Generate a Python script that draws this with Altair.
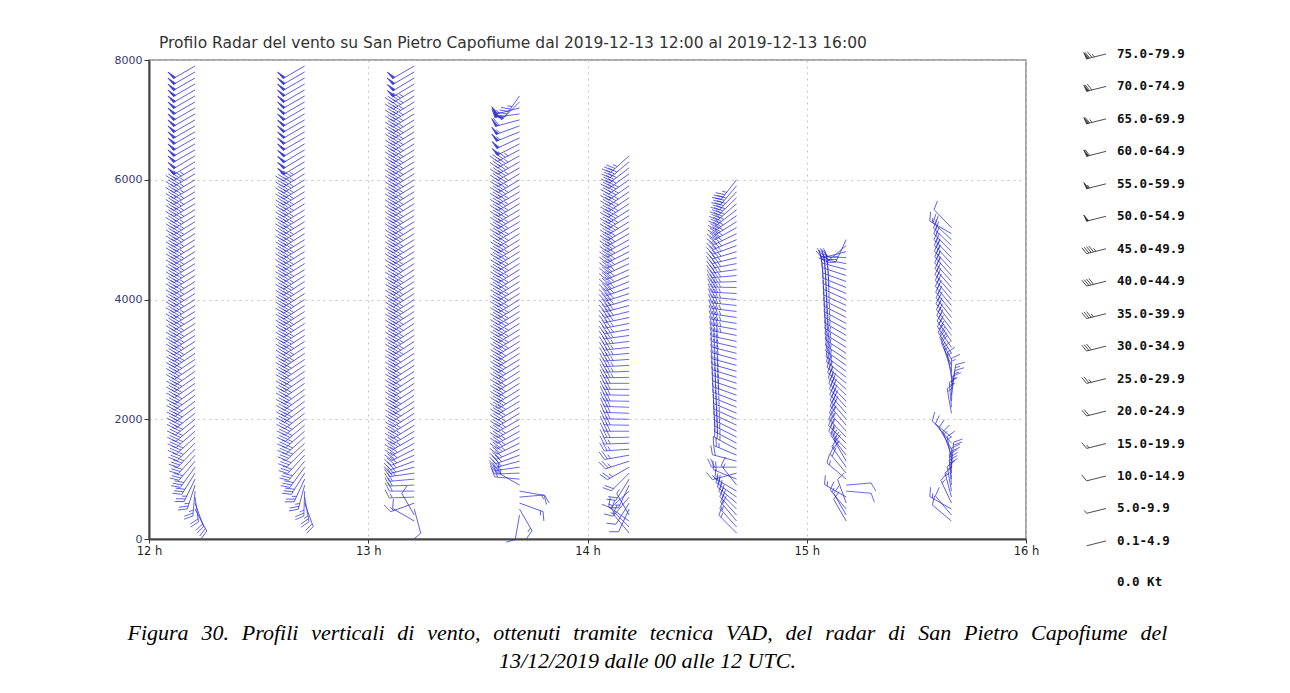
import math
import pandas as pd
import altair as alt

# ---------------- data ----------------
TITLE = "Profilo Radar del vento su San Pietro Capofiume dal 2019-12-13 12:00 al 2019-12-13 16:00"
CAPTION_1 = "Figura 30. Profili verticali di vento, ottenuti tramite tecnica VAD, del radar di San Pietro Capofiume del"
CAPTION_2 = "13/12/2019 dalle 00 alle 12 UTC."

# profile times (decimal hours) and lowest level (m); levels every 100 m
P_TIME = [12.21, 12.71, 13.21, 13.69, 14.19, 14.68, 15.18, 15.66, 15.66]
P_BASE = [500, 600, 300, 400, 100, 100, 300, 300, 2100]

P1_DIR = [152, 160, 172, 185, 198, 206, 212, 216, 220,
          222, 224, 226, 228, 229, 230, 231, 232, 233, 233,
          234, 234, 235, 235, 235, 236, 236, 236, 236, 237,
          237, 237, 237, 238, 238, 238, 238, 238, 238, 238,
          238, 238, 238, 238, 238, 238, 238, 238, 238, 238,
          238, 239, 239, 239, 239, 239, 239, 239, 239, 239,
          239, 240, 240, 240, 240, 240, 240, 240, 240, 240,
          240, 240, 240, 240, 240, 240]
P1_SPD = [20, 22, 22, 25, 25, 28, 30, 30, 32,
          33, 35, 35, 37, 38, 38, 40, 40, 40, 41,
          41, 42, 42, 43, 43, 44, 44, 45, 45, 45,
          46, 46, 46, 47, 47, 47, 47, 47, 48, 48,
          48, 48, 48, 49, 49, 49, 49, 49, 48, 48,
          49, 49, 49, 49, 49, 48, 49, 49, 49, 50,
          51, 51, 52, 52, 53, 53, 53, 54, 54, 54,
          53, 53, 52, 52, 51, 50]

P2_DIR = [160, 170, 182, 195, 205, 212, 216,
          220, 223, 225, 227, 228, 229, 230, 231, 232, 233,
          233, 234, 234, 235, 235, 235, 236, 236, 236, 236,
          237, 237, 237, 237, 237, 237, 237, 237, 237, 237,
          237, 237, 238, 238, 238, 238, 238, 238, 238, 238,
          238, 238, 238, 238, 238, 238, 238, 238, 238, 238,
          239, 239, 239, 239, 240, 240, 240, 240, 240, 240,
          240, 240, 240, 240, 240, 240, 240]
P2_SPD = [22, 25, 25, 28, 28, 30, 30,
          32, 33, 34, 35, 36, 37, 38, 39, 40, 40,
          41, 41, 42, 42, 43, 43, 44, 44, 45, 45,
          45, 46, 46, 46, 47, 47, 47, 47, 48, 48,
          48, 48, 48, 49, 49, 49, 49, 49, 49, 49,
          49, 48, 49, 49, 49, 49, 48, 49, 49, 49,
          50, 50, 51, 51, 52, 52, 53, 53, 53, 54,
          54, 53, 53, 52, 52, 51, 50]

P3_DIR = [300, 330, 165, 250, 268, 270, 268, 265, 262, 255,
          250, 246, 243, 241, 240, 239, 238, 238, 237, 237,
          237, 237, 237, 237, 237, 237, 237, 237, 237, 237,
          237, 237, 237, 237, 237, 237, 237, 237, 237, 237,
          237, 237, 237, 237, 238, 238, 238, 238, 238, 238,
          238, 238, 238, 238, 238, 238, 238, 238, 238, 238,
          238, 238, 238, 238, 238, 238, 238, 238, 238, 238,
          238, 238, 239, 239, 239, 240, 240]
P3_SPD = [12, 10, 12, 15, 18, 20, 20, 22, 25, 25,
          28, 30, 32, 33, 35, 36, 37, 38, 39, 40,
          40, 41, 41, 42, 42, 43, 43, 44, 44, 45,
          45, 45, 46, 46, 46, 47, 47, 47, 48, 48,
          48, 48, 48, 49, 49, 49, 49, 49, 49, 49,
          48, 49, 49, 48, 49, 49, 48, 49, 49, 48,
          47, 48, 49, 48, 47, 48, 49, 48, 47, 48,
          49, 48, 49, 50, 51, 52, 53]

P4_DIR = [190, 150, 110, 85, 100, 300, 275, 268,
          262, 255, 250, 246, 244, 242, 241, 240, 240, 239,
          239, 239, 238, 238, 238, 238, 238, 238, 238, 238,
          238, 238, 238, 238, 238, 238, 238, 238, 238, 238,
          238, 238, 238, 238, 238, 238, 238, 238, 238, 238,
          239, 239, 239, 239, 239, 239, 239, 239, 239, 239,
          240, 240, 241, 242, 243, 245, 248, 250, 255, 262,
          255, 225, 215]
P4_SPD = [12, 15, 18, 15, 12, 15, 20, 25,
          28, 30, 32, 34, 35, 36, 37, 38, 38, 39,
          40, 40, 41, 41, 42, 42, 43, 43, 44, 44,
          44, 45, 45, 45, 46, 46, 46, 47, 47, 47,
          47, 48, 48, 48, 48, 49, 49, 49, 49, 49,
          49, 48, 49, 49, 48, 49, 49, 48, 49, 49,
          48, 47, 48, 49, 50, 52, 55, 58, 60, 62,
          58, 50, 45]

P5_DIR = [320, 315, 305, 330, 205, 212, 220, 228, 205, 212,
          225, 240, 252, 260, 266, 268, 269, 270, 271, 271,
          272, 272, 271, 271, 270, 270, 269, 268, 267, 266,
          265, 264, 263, 262, 260, 259, 258, 256, 255, 253,
          252, 250, 248, 247, 246, 245, 244, 243, 242, 241,
          240, 239, 238, 238, 237, 237, 236, 236, 235, 235,
          234, 232, 230, 228]
P5_SPD = [12, 12, 10, 8, 10, 12, 15, 15, 18, 20,
          22, 25, 25, 28, 28, 29, 30, 30, 31, 31,
          32, 32, 33, 33, 34, 34, 35, 35, 36, 36,
          37, 37, 38, 38, 39, 39, 40, 40, 40, 41,
          41, 41, 42, 42, 42, 43, 43, 43, 43, 44,
          44, 44, 45, 45, 45, 46, 46, 46, 45, 45,
          44, 42, 40, 38]

P6_DIR = [315, 318, 320, 318, 315, 310, 305, 300, 322, 292,
          255, 270, 285, 293, 298, 298, 297, 296, 295, 294,
          293, 292, 291, 290, 289, 288, 287, 286, 285, 285,
          284, 283, 282, 281, 280, 279, 278, 277, 276, 275,
          273, 271, 268, 265, 262, 259, 256, 253, 250, 247,
          244, 241, 238, 235, 232, 229, 226, 223, 220, 218]
P6_SPD = [15, 18, 20, 22, 22, 22, 20, 18, 15, 20,
          18, 20, 22, 25, 25, 26, 27, 27, 28, 28,
          29, 29, 30, 30, 31, 31, 32, 32, 33, 33,
          33, 34, 34, 35, 35, 35, 36, 36, 36, 36,
          37, 37, 37, 38, 38, 38, 38, 39, 39, 39,
          40, 40, 40, 41, 41, 41, 42, 42, 40, 38]

P7_DIR = [330, 330, 320, 340, 300, 95, 85, 310, 320, 325,
          330, 322, 316, 315, 316, 318, 320, 320, 319, 318,
          316, 314, 312, 310, 308, 306, 305, 304, 303, 302,
          301, 300, 299, 298, 297, 296, 295, 294, 293, 292,
          290, 288, 285, 280, 272, 255, 230, 205]
P7_SPD = [10, 12, 15, 10, 15, 10, 12, 15, 20, 22,
          25, 25, 27, 28, 28, 29, 29, 30, 30, 30,
          30, 30, 29, 29, 29, 28, 28, 28, 28, 28,
          28, 28, 28, 29, 29, 29, 29, 30, 30, 30,
          30, 30, 30, 30, 32, 32, 30, 25]

P8A_DIR = [310, 320, 300, 335, 345, 350, 355, 355, 0, 5, 350, 340, 330, 320, 310]
P8A_SPD = [12, 10, 15, 15, 15, 18, 20, 22, 20, 20, 18, 15, 12, 10, 10]

P8B_DIR = [350, 355, 2, 8, 10, 0, 350, 342, 336, 332,
           328, 326, 325, 324, 323, 322, 322, 321, 320, 320,
           319, 319, 318, 318, 317, 317, 316, 315, 314, 313,
           300, 316]
P8B_SPD = [15, 15, 18, 18, 15, 15, 15, 18, 18, 20,
           20, 21, 21, 22, 22, 22, 23, 23, 23, 24,
           24, 24, 24, 25, 25, 25, 25, 24, 24, 23,
           15, 10]

P_DIRS = [P1_DIR, P2_DIR, P3_DIR, P4_DIR, P5_DIR, P6_DIR, P7_DIR, P8A_DIR, P8B_DIR]
P_SPDS = [P1_SPD, P2_SPD, P3_SPD, P4_SPD, P5_SPD, P6_SPD, P7_SPD, P8A_SPD, P8B_SPD]

LEG_LABELS = ["75.0-79.9", "70.0-74.9", "65.0-69.9", "60.0-64.9", "55.0-59.9",
              "50.0-54.9", "45.0-49.9", "40.0-44.9", "35.0-39.9", "30.0-34.9",
              "25.0-29.9", "20.0-24.9", "15.0-19.9", "10.0-14.9", "5.0-9.9",
              "0.1-4.9", "0.0 Kt"]
LEG_KT = [75.0, 70.0, 65.0, 60.0, 55.0, 50.0, 45.0, 40.0, 35.0, 30.0,
          25.0, 20.0, 15.0, 10.0, 5.0, 0.1, 0.0]

# ---------------- barb symbols ----------------
def barb_path(kt):
    fx, fy = 0.34, 0.16
    parts = ["M0,0L0,-1"]
    p = 1.0
    n50 = kt // 50
    rem = kt - 50 * n50
    n10 = rem // 10
    n5 = (rem - 10 * n10) // 5
    for _ in range(n50):
        parts.append(f"M0,{-p:.3f}L0.330,{-p - 0.06:.3f}L0,{-p + 0.10:.3f}Z")
        p -= 0.16
    for _ in range(n10):
        parts.append(f"M0,{-p:.3f}L{fx:.3f},{-p - fy:.3f}")
        p -= 0.12
    for _ in range(n5):
        parts.append(f"M0,{-p:.3f}L{fx / 2:.3f},{-p - fy / 2:.3f}")
    return "".join(parts)

CLASSES = list(range(0, 100, 5))
CLASS_KEYS = [f"c{k}" for k in CLASSES]
CLASS_PATHS = [barb_path(k) for k in CLASSES]

def cls(v):
    return f"c{int(v // 5) * 5}"

rows = []
for t, base, dirs, spds in zip(P_TIME, P_BASE, P_DIRS, P_SPDS):
    for i, (d, s) in enumerate(zip(dirs, spds)):
        rows.append({"time": t, "h": base + 100 * i, "dir": d % 360, "spd": s, "cls": cls(s)})
df = pd.DataFrame(rows)

leg = pd.DataFrame({"label": LEG_LABELS, "kt": LEG_KT})
leg["idx"] = range(len(leg))
leg["row"] = leg["idx"] + (leg["kt"] == 0) * 0.25
leg["cls"] = [cls(k) for k in LEG_KT]
leg_icons = leg[leg["kt"] > 0]

# caption line 1 is justified in the source: widen its word gaps
CAPTION = ["\u2002\u200a".join(CAPTION_1.split(" ")), CAPTION_2]

BLUE = "#2a2ad8"
shape_scale = alt.Scale(domain=CLASS_KEYS, range=CLASS_PATHS)

main = alt.Chart(df).mark_point(
    filled=True, fill=BLUE, stroke=BLUE, strokeWidth=0.75, opacity=0.9, size=2500
).encode(
    x=alt.X("time:Q", scale=alt.Scale(domain=[12, 16], nice=False), title=None,
            axis=alt.Axis(values=[12, 13, 14, 15, 16], labelExpr="datum.value + ' h'",
                          labelFlush=False, labelFontSize=11.5, labelColor="#222",
                          labelFont="DejaVu Sans", tickSize=4, tickColor="#333",
                          domainColor="#444", domainWidth=2, labelPadding=2,
                          gridColor="#c4c4c4", gridDash=[2, 4], gridWidth=1)),
    y=alt.Y("h:Q", scale=alt.Scale(domain=[0, 8000], nice=False), title=None,
            axis=alt.Axis(values=[0, 2000, 4000, 6000, 8000], format="d", labelFontSize=11,
                          labelColor="#38386e", labelFont="DejaVu Sans", tickSize=5,
                          tickColor="#333", domainColor="#444", domainWidth=2,
                          labelPadding=2, minExtent=40, maxExtent=40,
                          gridColor="#c4c4c4", gridDash=[2, 4], gridWidth=1)),
    shape=alt.Shape("cls:N", scale=shape_scale, legend=None),
    angle=alt.Angle("dir:Q", scale=None),
).properties(
    width=877, height=479,
    title=alt.TitleParams(TITLE, anchor="start", frame="group", dx=10, offset=3,
                          font="DejaVu Sans", fontSize=15.5, fontWeight="normal",
                          color="#333"),
    view=alt.ViewBackground(stroke="#8a8a8a", strokeWidth=1.5),
)

leg_y = alt.Y("row:Q", scale=alt.Scale(domain=[0.185, 14.94], reverse=True), axis=None)

leg_barbs = alt.Chart(leg_icons).mark_point(
    filled=True, fill="#444", stroke="#333", strokeWidth=0.8, opacity=1, size=1600
).encode(
    x=alt.value(55),
    y=leg_y,
    shape=alt.Shape("cls:N", scale=shape_scale, legend=None),
    angle=alt.value(256),
)

leg_text = alt.Chart(leg).mark_text(
    align="left", baseline="middle", font="DejaVu Sans Mono", fontWeight="bold",
    fontSize=12.5, color="#111"
).encode(
    x=alt.value(66),
    y=leg_y,
    text="label:N",
)

legend = alt.layer(leg_barbs, leg_text).properties(
    width=135, height=479,
    view=alt.ViewBackground(stroke="transparent"),
)

chart = alt.hconcat(main, legend, spacing=10).resolve_scale(
    x="independent", y="independent", shape="independent"
).properties(
    padding={"left": 100, "top": 26, "right": 5, "bottom": 5},
    title=alt.TitleParams(CAPTION, orient="bottom", anchor="middle",
                          font="Liberation Serif", fontStyle="italic", fontSize=22,
                          fontWeight="normal", color="#000", lineHeight=28, offset=34),
).configure(background="white")

chart.save("out.html", embed_options={"renderer": "svg", "actions": False})
